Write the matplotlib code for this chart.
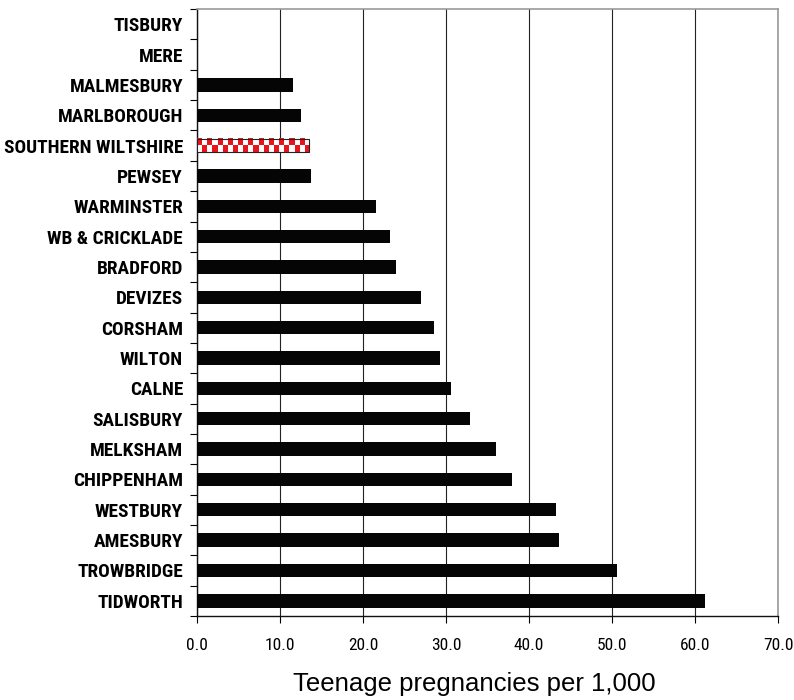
import os
import matplotlib
matplotlib.use("Agg")
import matplotlib.pyplot as plt
from matplotlib import font_manager as fm
import numpy as np

# Community areas, top of chart first
areas = ["TISBURY", "MERE", "MALMESBURY", "MARLBOROUGH", "SOUTHERN WILTSHIRE",
         "PEWSEY", "WARMINSTER", "WB & CRICKLADE", "BRADFORD", "DEVIZES",
         "CORSHAM", "WILTON", "CALNE", "SALISBURY", "MELKSHAM", "CHIPPENHAM",
         "WESTBURY", "AMESBURY", "TROWBRIDGE", "TIDWORTH"]
rates = [0.0, 0.0, 11.6, 12.5, 13.5, 13.8, 21.6, 23.2, 24.0, 27.0,
         28.6, 29.3, 30.6, 32.9, 36.0, 37.9, 43.3, 43.6, 50.6, 61.2]
highlight = "SOUTHERN WILTSHIRE"
x_ticks = [0, 10, 20, 30, 40, 50, 60, 70]


def find_font(patterns):
    for pat in patterns:
        for f in fm.fontManager.ttflist:
            if pat.lower() in os.path.basename(f.fname).lower():
                return f.fname
    return None


# narrow fonts if there are any, else plain Liberation
bold_path = find_font(["LiberationSansNarrow-Bold.", "RobotoCondensed-Bold.",
                       "DejaVuSansCondensed-Bold.", "OpenSans_Condensed-Bold",
                       "OpenSansCondensed-Bold"])
reg_path = find_font(["LiberationSansNarrow-Regular.", "RobotoCondensed-Regular.",
                      "DejaVuSansCondensed.", "OpenSans_Condensed-Regular",
                      "OpenSansCondensed-Regular"])
if bold_path:
    fp_bold = fm.FontProperties(fname=bold_path)
else:
    fp_bold = fm.FontProperties(family="Liberation Sans", weight="bold")
if reg_path:
    fp_reg = fm.FontProperties(fname=reg_path)
else:
    fp_reg = fm.FontProperties(family="Liberation Sans")

fig = plt.figure(figsize=(7.94, 7.0), dpi=100)
renderer = fig.canvas.get_renderer()


def fit_size(text, fp, target_px):
    fp = fp.copy()
    fp.set_size(10)
    t = fig.text(0, 0, text, fontproperties=fp)
    w = t.get_window_extent(renderer).width
    t.remove()
    return 10 * target_px / w


fp_bold.set_size(fit_size("SOUTHERN WILTSHIRE", fp_bold, 179))
fp_reg.set_size(12.5)

ax = fig.add_axes([0.248, 0.12, 0.732, 0.867])

ypos = np.arange(len(areas))
bars = ax.barh(ypos, rates, height=0.44, color="#050505", zorder=3)

# checkered bar for Southern Wiltshire
hi = areas.index(highlight)
b = bars[hi]
b.set_edgecolor("#222222")
b.set_linewidth(0.8)
b.set_zorder(4)
b.set_fill(False)
ncols = 22
checker = (np.indices((2, ncols)).sum(axis=0) % 2)
cmap = matplotlib.colors.ListedColormap(["#e8141c", "white"])
ax.imshow(checker, cmap=cmap, aspect="auto", interpolation="nearest",
          extent=(b.get_x(), b.get_x() + b.get_width(),
                  b.get_y() + b.get_height(), b.get_y()),
          zorder=3.5)

ax.set_xlim(0, 70)
ax.set_ylim(len(areas) - 0.5, -0.5)

ax.set_yticks(ypos)
ax.set_yticklabels(areas, fontproperties=fp_bold)
ax.set_yticks(np.arange(len(areas) + 1) - 0.5, minor=True)
ax.tick_params(axis="y", which="major", length=0, pad=10)
ax.tick_params(axis="y", which="minor", length=5, width=0.8, direction="out")

ax.set_xticks(x_ticks)
ax.set_xticklabels([f"{t:.1f}" for t in x_ticks], fontproperties=fp_reg)
ax.tick_params(axis="x", length=5, width=0.8, direction="out", pad=11)

ax.grid(axis="x", color="#222222", linewidth=0.8, zorder=0)
ax.set_axisbelow(True)

for side in ["top", "right"]:
    ax.spines[side].set_color("#999999")
    ax.spines[side].set_linewidth(1.2)
for side in ["left", "bottom"]:
    ax.spines[side].set_color("#111111")
    ax.spines[side].set_linewidth(1.0)

ax.set_xlabel("Teenage pregnancies per 1,000", fontfamily=["Liberation Sans", "DejaVu Sans"],
              fontsize=18.5)
ax.xaxis.set_label_coords(0.478, -0.093, transform=ax.transAxes)

fig.savefig("out.png", dpi=100)
